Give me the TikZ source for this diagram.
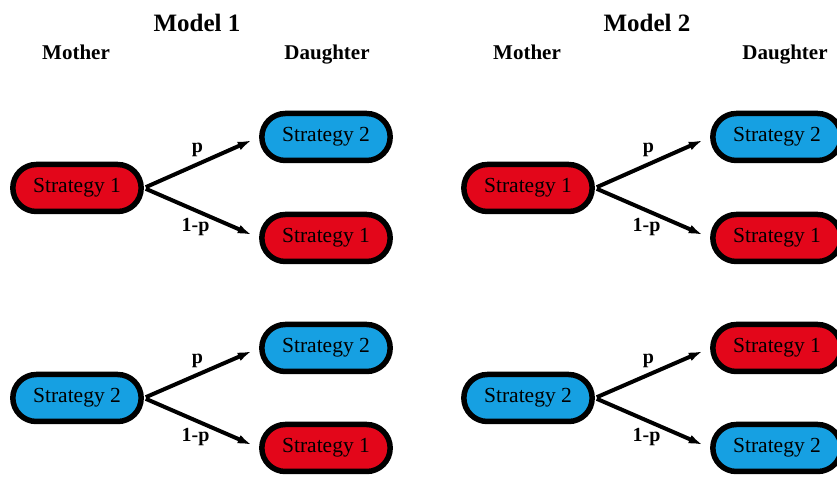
\documentclass[tikz,border=0pt]{standalone}
\usepackage{fontspec}
\setmainfont{Liberation Serif}
\usetikzlibrary{shapes.misc,arrows.meta}
\definecolor{stratred}{RGB}{227,6,26}
\definecolor{stratblue}{RGB}{22,160,226}
\begin{document}
\begin{tikzpicture}[x=1pt,y=1pt,
  strat/.style={draw, rounded rectangle, line width=5.5pt, minimum width=135pt, minimum height=47pt, font=\fontsize{21.5}{23}\selectfont},
  red/.style={strat, fill=stratred},
  blue/.style={strat, fill=stratblue},
  head/.style={anchor=base, font=\fontsize{21}{23}\selectfont\bfseries},
  title/.style={anchor=base, font=\fontsize{25}{27}\selectfont\bfseries},
  branch/.style={line width=4pt, -{Latex[length=14pt,width=9pt]}, shorten >=8pt, shorten <=2pt},
  prob/.style={font=\fontsize{20}{22}\selectfont\bfseries}]
\useasboundingbox (0,0) rectangle (837,476);

% Model 1
\node[title] (t1) at (197,444) {Model 1};
\node[head] (mo1) at (76,416) {Mother};
\node[head] (da1) at (327,416) {Daughter};

\node[red] (m1) at (77,288) {Strategy 1};
\node[blue] (d1) at (326,339) {Strategy 2};
\node[red] (d2) at (326,238) {Strategy 1};

\node[blue] (m2) at (77,78) {Strategy 2};
\node[blue] (d3) at (326,128) {Strategy 2};
\node[red] (d4) at (326,28) {Strategy 1};

\draw[branch] (m1.east) -- (d1.west) node[prob, midway, above, xshift=-4pt] {p};
\draw[branch] (m1.east) -- (d2.west) node[prob, midway, below, xshift=-6pt] {1-p};
\draw[branch] (m2.east) -- (d3.west) node[prob, midway, above, xshift=-4pt] {p};
\draw[branch] (m2.east) -- (d4.west) node[prob, midway, below, xshift=-6pt] {1-p};

% Model 2
\node[title] (t2) at (647,444) {Model 2};
\node[head] (mo2) at (527,416) {Mother};
\node[head] (da2) at (785,416) {Daughter};

\node[red] (n1) at (528,288) {Strategy 1};
\node[blue] (e1) at (777,339) {Strategy 2};
\node[red] (e2) at (777,238) {Strategy 1};

\node[blue] (n2) at (528,78) {Strategy 2};
\node[red] (e3) at (777,128) {Strategy 1};
\node[blue] (e4) at (777,28) {Strategy 2};

\draw[branch] (n1.east) -- (e1.west) node[prob, midway, above, xshift=-4pt] {p};
\draw[branch] (n1.east) -- (e2.west) node[prob, midway, below, xshift=-6pt] {1-p};
\draw[branch] (n2.east) -- (e3.west) node[prob, midway, above, xshift=-4pt] {p};
\draw[branch] (n2.east) -- (e4.west) node[prob, midway, below, xshift=-6pt] {1-p};
\end{tikzpicture}
\end{document}
